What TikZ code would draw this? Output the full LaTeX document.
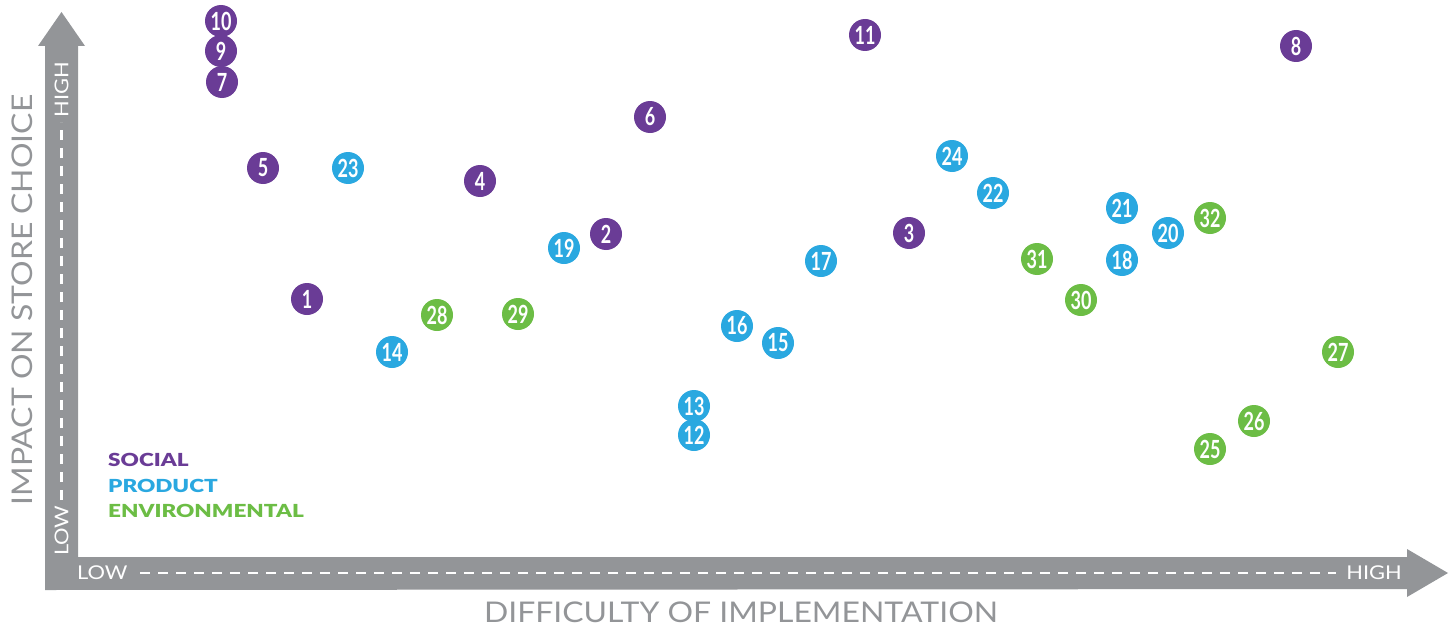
\documentclass[tikz,border=0pt]{standalone}
\usepackage{fontspec}
\setmainfont{Lato}
\newfontfamily\lightfont[FakeStretch=1.12]{Lato}
\newfontfamily\tagfont[FakeStretch=1.15]{Lato}
\newfontfamily\legendfont[FakeStretch=1.25]{Lato Black}
\newfontfamily\numfont[FakeStretch=0.72]{Lato}
\definecolor{axisgrey}{HTML}{939598}
\definecolor{socialc}{HTML}{6A3C96}
\definecolor{productc}{HTML}{2AA8E0}
\definecolor{envc}{HTML}{6CBD45}
\tikzset{
  dot/.style={circle, minimum size=32pt, inner sep=0pt, text=white,
    font=\numfont\bfseries\fontsize{25}{25}\selectfont},
  social/.style={dot, fill=socialc},
  product/.style={dot, fill=productc},
  env/.style={dot, fill=envc},
  axistag/.style={text=white, font=\tagfont\fontsize{19}{19}\selectfont, inner sep=0pt},
  axislabel/.style={text=axisgrey, anchor=base, inner sep=0pt,
    font=\lightfont\fontsize{28.5}{28.5}\selectfont},
  legend/.style={anchor=west, inner sep=0pt, font=\legendfont\fontsize{18}{18}\selectfont}
}
\begin{document}
\begin{tikzpicture}[x=1pt, y=-1pt]
\useasboundingbox (0,0) rectangle (1455,626);
% axes
\fill[axisgrey] (45,590)--(45,46)--(38,46)--(61.5,12)--(85,46)--(78,46)--(78,557)
  --(1407,557)--(1407,549)--(1448,573)--(1407,597)--(1407,589)--cycle;
\draw[white, line width=2.2pt, dash pattern=on 10pt off 8pt] (140,573)--(1336,573);
\draw[white, line width=2.2pt, dash pattern=on 10pt off 8pt] (61.5,500)--(61.5,122);
\node[axistag, anchor=west] (xlow) at (77,573) {LOW};
\node[axistag, anchor=east] (xhigh) at (1402,573) {HIGH};
\node[axistag, rotate=90, anchor=west] (ylow) at (61.5,556) {LOW};
\node[axistag, rotate=90, anchor=east] (yhigh) at (61.5,62) {HIGH};
\node[axislabel] (xlabel) at (741,622) {DIFFICULTY OF IMPLEMENTATION};
\node[axislabel, rotate=90] (ylabel) at (32,300) {IMPACT ON STORE CHOICE};
% legend
\node[legend, text=socialc] (lsocial) at (108,460) {SOCIAL};
\node[legend, text=productc] (lproduct) at (108,486) {PRODUCT};
\node[legend, text=envc] (lenv) at (108,511) {ENVIRONMENTAL};
% social
\foreach \n/\x/\y in {10/221/21, 9/221/51, 7/222/82, 11/865/35, 8/1296/46, 6/650/117,
    5/263/168, 4/480/181, 2/606/234, 3/909/233, 1/307/299}
  \node[social] (p\n) at (\x,\y) {\n};
% product
\foreach \n/\x/\y in {23/348/168, 24/952/156, 22/993/193, 21/1122/208, 20/1168/233,
    19/564/248, 17/821/261, 18/1122/260, 16/737/326, 15/778/343, 14/392/352,
    13/694/406, 12/694/435}
  \node[product] (p\n) at (\x,\y) {\n};
% environmental
\foreach \n/\x/\y in {32/1210/218, 31/1037/259, 30/1081/300, 28/437/315, 29/518/314,
    27/1338/352, 26/1254/421, 25/1210/449}
  \node[env] (p\n) at (\x,\y) {\n};
\end{tikzpicture}
\end{document}
